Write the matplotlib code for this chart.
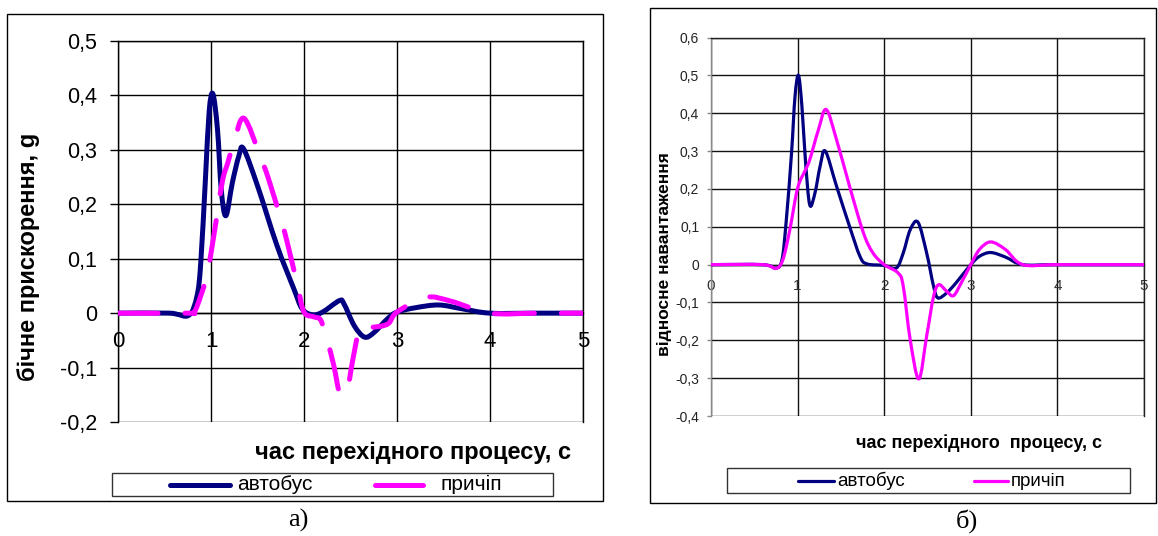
import matplotlib
matplotlib.use('Agg')
import matplotlib.pyplot as plt
import numpy as np
from matplotlib.path import Path
from matplotlib.patches import PathPatch, Rectangle
from matplotlib.lines import Line2D
from matplotlib.ticker import FuncFormatter

plt.rcParams['font.family'] = ['Liberation Sans', 'DejaVu Sans']

# ---- data ----
# (a) lateral acceleration, g
t_bus_a = [0, 0.55, 0.76, 0.85, 0.89, 0.94, 0.98, 1.02, 1.07, 1.11, 1.16, 1.23, 1.30,
           1.35, 1.50, 1.71, 1.89, 1.98, 2.09, 2.20, 2.38, 2.43, 2.54, 2.65, 2.75, 2.90,
           3.00, 3.20, 3.45, 3.70, 4.00, 4.50, 5.00]
y_bus_a = [0, 0, -0.004, 0.032, 0.093, 0.246, 0.37, 0.403, 0.337, 0.227, 0.179, 0.24, 0.289,
           0.302, 0.234, 0.124, 0.045, 0.008, -0.003, 0.002, 0.023, 0.017, -0.023, -0.044, -0.036, -0.01,
           0.002, 0.01, 0.015, 0.008, 0, 0, 0]
t_trl_a = [0, 0.75, 0.82, 0.89, 0.96, 1.03, 1.12, 1.18, 1.25, 1.355, 1.53, 1.62, 1.75, 1.82,
           1.93, 2.0, 2.11, 2.18, 2.25, 2.32, 2.39, 2.47, 2.52, 2.59, 2.65, 2.72, 2.9, 3.0,
           3.31, 3.58, 4.0, 4.5, 5.0]
y_trl_a = [0, 0, 0.002, 0.032, 0.072, 0.142, 0.24, 0.276, 0.316, 0.358, 0.288, 0.246, 0.173, 0.130,
           0.051, 0.002, -0.007, -0.013, -0.05, -0.096, -0.150, -0.135, -0.09, -0.032, -0.023, -0.026, -0.02, 0.002,
           0.029, 0.022, 0.0, 0, 0]

# (b) relative load
t_bus_b = [0, 0.6, 0.75, 0.82, 0.87, 0.93, 0.97, 1.01, 1.05, 1.09, 1.14, 1.2, 1.26, 1.32, 1.45,
           1.6, 1.72, 1.8, 2.0, 2.14, 2.22, 2.3, 2.39, 2.49, 2.57, 2.62, 2.72, 2.83, 3.0, 3.1,
           3.23, 3.4, 3.6, 4.0, 5.0]
y_bus_b = [0, 0, -0.009, 0.013, 0.119, 0.295, 0.444, 0.50, 0.418, 0.277, 0.158, 0.189, 0.26, 0.30, 0.207,
           0.101, 0.022, 0.002, -0.002, -0.009, 0.031, 0.092, 0.112, 0.031, -0.057, -0.088, -0.075, -0.048, 0.0, 0.022,
           0.032, 0.02, 0.0, 0, 0]
t_trl_b = [0, 0.6, 0.75, 0.83, 0.91, 1.0, 1.09, 1.14, 1.24, 1.33, 1.45, 1.6, 1.76, 1.87, 2.0,
           2.16, 2.22, 2.30, 2.40, 2.49, 2.57, 2.63, 2.72, 2.80, 2.89, 3.0, 3.1, 3.23, 3.4, 3.6,
           4.0, 5.0]
y_trl_b = [0, 0, -0.01, 0.013, 0.092, 0.202, 0.25, 0.277, 0.356, 0.41, 0.33, 0.207, 0.084, 0.031, 0.0,
           -0.022, -0.057, -0.198, -0.302, -0.189, -0.084, -0.053, -0.07, -0.082, -0.048, 0.0, 0.04, 0.060, 0.04, 0.0,
           0, 0]

labels = ['автобус', 'причіп']
x_ticks = [0, 1, 2, 3, 4, 5]
navy = '#000080'
pink = '#FF00FF'

W, H = 1158, 536


def fx(px):
    return px / W


def fy(py):
    return 1 - py / H


def smooth_path(x, y):
    # excel-like smoothed line (catmull-rom -> bezier)
    pts = np.column_stack([x, y]).astype(float)
    n = len(pts)
    verts = [pts[0]]
    codes = [Path.MOVETO]
    for i in range(n - 1):
        p0 = pts[max(i - 1, 0)]
        p1 = pts[i]
        p2 = pts[i + 1]
        p3 = pts[min(i + 2, n - 1)]
        verts += [p1 + (p2 - p0) / 6, p2 - (p3 - p1) / 6, p2]
        codes += [Path.CURVE4] * 3
    return Path(verts, codes)


def comma(v, pos):
    v = round(v, 2)
    if v == 0:
        return '0'
    return ('%g' % v).replace('.', ',')


fig = plt.figure(figsize=(W / 100, H / 100), dpi=100)

# ---------------- panel a ----------------
ax1 = fig.add_axes([fx(118), fy(422), fx(583) - fx(118), fy(41) - fy(422)])
ax1.set_xlim(0, 5)
ax1.set_ylim(-0.2, 0.5)
ax1.set_yticks(np.round(np.arange(-0.2, 0.51, 0.1), 2))
ax1.yaxis.set_major_formatter(FuncFormatter(comma))
ax1.set_xticks(x_ticks)
ax1.grid(True, color='black', lw=1.0)
ax1.set_axisbelow(True)
ax1.spines['bottom'].set_position(('data', 0))
for s in ax1.spines.values():
    s.set_color('black')
    s.set_linewidth(1.0)
ax1.tick_params(axis='y', length=6, width=1, pad=9, labelsize=15.5)
ax1.tick_params(axis='x', length=0, pad=13, labelsize=16)

ax1.add_patch(PathPatch(smooth_path(t_bus_a, y_bus_a), fill=False, ec=navy, lw=3.6,
                        capstyle='round', joinstyle='round', zorder=3))
ax1.add_patch(PathPatch(smooth_path(t_trl_a, y_trl_a), fill=False, ec=pink, lw=3.6,
                        linestyle=(0, (8, 5.4)), capstyle='round', joinstyle='round', zorder=4))

fig.text(fx(29), fy(257), 'бічне прискорення, g', rotation=90, ha='center', va='center',
         fontsize=17, fontweight='bold')
fig.text(fx(413), fy(452), 'час перехідного процесу, с', ha='center', va='center',
         fontsize=17, fontweight='bold')

# ---------------- panel b ----------------
ax2 = fig.add_axes([fx(711), fy(416), fx(1144) - fx(711), fy(37.6) - fy(416)])
ax2.set_xlim(0, 5)
ax2.set_ylim(-0.4, 0.6)
ax2.set_yticks(np.round(np.arange(-0.4, 0.61, 0.1), 2))
ax2.yaxis.set_major_formatter(FuncFormatter(comma))
ax2.set_xticks(x_ticks)
ax2.grid(True, color='#111111', lw=1.0)
ax2.set_axisbelow(True)
ax2.spines['bottom'].set_position(('data', 0))
for s in ax2.spines.values():
    s.set_color('#222222')
    s.set_linewidth(1.0)
ax2.spines['left'].set_color('#888888')
ax2.tick_params(axis='y', length=3, width=1, pad=5.5, labelsize=10, labelcolor='#222222', color='#888888')
ax2.tick_params(axis='x', length=0, pad=10.5, labelsize=11, labelcolor='#333333')

ax2.add_patch(PathPatch(smooth_path(t_bus_b, y_bus_b), fill=False, ec=navy, lw=2.3,
                        capstyle='round', joinstyle='round', zorder=3))
ax2.add_patch(PathPatch(smooth_path(t_trl_b, y_trl_b), fill=False, ec=pink, lw=2.3,
                        capstyle='round', joinstyle='round', zorder=4))

fig.text(fx(665), fy(254), 'відносне навантаження', rotation=90, ha='center', va='center',
         fontsize=12.5, fontweight='bold')
fig.text(fx(979), fy(443), 'час перехідного  процесу, с', ha='center', va='center',
         fontsize=13, fontweight='bold')

# ---------------- frames ----------------
fig.add_artist(Rectangle((fx(7), fy(501)), fx(603) - fx(7), fy(14) - fy(501), transform=fig.transFigure,
                         fill=False, ec='black', lw=1.0))
fig.add_artist(Rectangle((fx(650), fy(503)), fx(1156) - fx(650), fy(7.5) - fy(503), transform=fig.transFigure,
                         fill=False, ec='black', lw=1.0))

# ---------------- legends ----------------
fig.add_artist(Rectangle((fx(112), fy(496)), fx(553) - fx(112), fy(473) - fy(496), transform=fig.transFigure,
                         fill=False, ec='#333333', lw=1.0))
fig.add_artist(Line2D([fx(170), fx(230)], [fy(484.5)] * 2, transform=fig.transFigure, color=navy,
                      lw=3.6, solid_capstyle='round'))
fig.add_artist(Line2D([fx(375), fx(423)], [fy(484.5)] * 2, transform=fig.transFigure, color=pink,
                      lw=3.6, solid_capstyle='round'))
fig.text(fx(237), fy(484.5), labels[0], ha='left', va='center', fontsize=15)
fig.text(fx(440), fy(484.5), labels[1], ha='left', va='center', fontsize=15)

fig.add_artist(Rectangle((fx(727), fy(493)), fx(1130) - fx(727), fy(468) - fy(493), transform=fig.transFigure,
                         fill=False, ec='#333333', lw=1.0))
fig.add_artist(Line2D([fx(798), fx(834)], [fy(481)] * 2, transform=fig.transFigure, color=navy,
                      lw=2.3, solid_capstyle='round'))
fig.add_artist(Line2D([fx(974), fx(1008)], [fy(481)] * 2, transform=fig.transFigure, color=pink,
                      lw=2.3, solid_capstyle='round'))
fig.text(fx(837), fy(481), labels[0], ha='left', va='center', fontsize=13.5)
fig.text(fx(1011), fy(481), labels[1], ha='left', va='center', fontsize=13.5)

# captions
fig.text(fx(298), fy(520), 'а)', ha='center', va='center', fontsize=19, family='Liberation Serif')
fig.text(fx(967), fy(521), 'б)', ha='center', va='center', fontsize=19, family='Liberation Serif')

fig.savefig('out.png', dpi=100)
